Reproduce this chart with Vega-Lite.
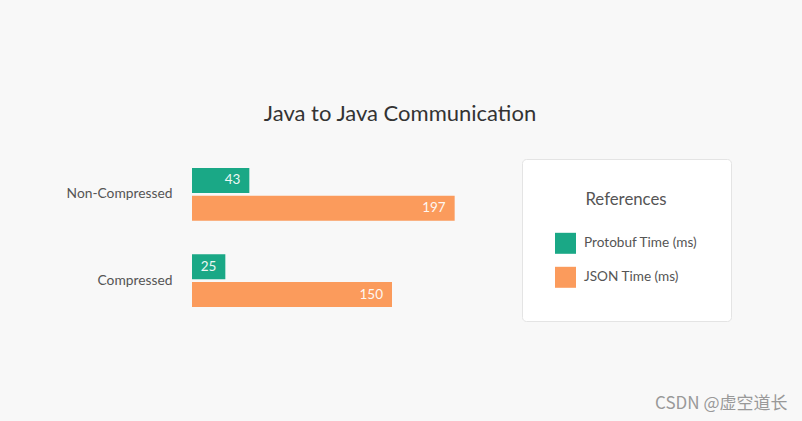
{
  "$schema": "https://vega.github.io/schema/vega-lite/v6.json",
  "autosize": "none",
  "width": 416,
  "height": 175,
  "padding": {"left": 192, "top": 150, "right": 194, "bottom": 96},
  "background": "#f8f8f8",
  "title": {
    "text": "Java to Java Communication",
    "anchor": "middle",
    "font": "Lato",
    "fontSize": 22,
    "fontWeight": "normal",
    "color": "#333333",
    "offset": 24
  },
  "data": {
    "values": [
      {"group": "Non-Compressed", "series": "Protobuf Time (ms)", "value": 43},
      {"group": "Non-Compressed", "series": "JSON Time (ms)", "value": 197},
      {"group": "Compressed", "series": "Protobuf Time (ms)", "value": 25},
      {"group": "Compressed", "series": "JSON Time (ms)", "value": 150}
    ]
  },
  "encoding": {
    "y": {
      "field": "group",
      "type": "nominal",
      "sort": ["Non-Compressed", "Compressed"],
      "scale": {"paddingInner": 0.387, "paddingOuter": 0.208},
      "axis": {
        "title": null,
        "domain": false,
        "ticks": false,
        "labelPadding": 20,
        "labelFont": "Lato",
        "labelFontSize": 13.8,
        "labelColor": "#555555"
      }
    },
    "yOffset": {
      "field": "series",
      "type": "nominal",
      "sort": ["Protobuf Time (ms)", "JSON Time (ms)"],
      "scale": {"paddingInner": 0.107, "paddingOuter": 0}
    },
    "x": {
      "field": "value",
      "type": "quantitative",
      "scale": {"domain": [0, 312], "nice": false},
      "axis": {
        "title": "CSDN @虚空道长",
        "labels": false,
        "ticks": false,
        "domain": false,
        "grid": false,
        "titleFont": "Noto Sans CJK SC",
        "titleFontSize": 17,
        "titleFontWeight": "normal",
        "titleColor": "#999999",
        "titleAnchor": null,
        "titleAlign": "right",
        "titleBaseline": "middle",
        "titleX": 595,
        "titleY": 78
      }
    }
  },
  "layer": [
    {
      "mark": {"type": "bar"},
      "encoding": {
        "color": {
          "field": "series",
          "type": "nominal",
          "sort": ["Protobuf Time (ms)", "JSON Time (ms)"],
          "scale": {"domain": ["Protobuf Time (ms)", "JSON Time (ms)"], "range": ["#1aa886", "#fb9b5c"]},
          "legend": {
            "title": "References",
            "orient": "none",
            "legendX": 330,
            "legendY": 9,
            "direction": "vertical",
            "fillColor": "#ffffff",
            "strokeColor": "#e4e4e4",
            "cornerRadius": 4,
            "padding": 33,
            "titleFont": "Lato",
            "titleFontSize": 16.8,
            "titleFontWeight": "normal",
            "titleColor": "#555555",
            "titleAnchor": "middle",
            "titleAlign": "center",
            "titlePadding": 24,
            "symbolType": "square",
            "symbolSize": 441,
            "symbolStrokeWidth": 0,
            "symbolOpacity": 1,
            "labelFont": "Lato",
            "labelFontSize": 13.6,
            "labelColor": "#555555",
            "labelOffset": 8,
            "rowPadding": 13
          }
        }
      }
    },
    {
      "mark": {"type": "text", "align": "right", "baseline": "middle", "dx": -9, "font": "Lato", "fontSize": 13.5, "color": "#ffffff", "opacity": 0.92},
      "encoding": {
        "text": {"field": "value", "type": "quantitative"}
      }
    }
  ],
  "config": {
    "view": {"stroke": null}
  }
}
